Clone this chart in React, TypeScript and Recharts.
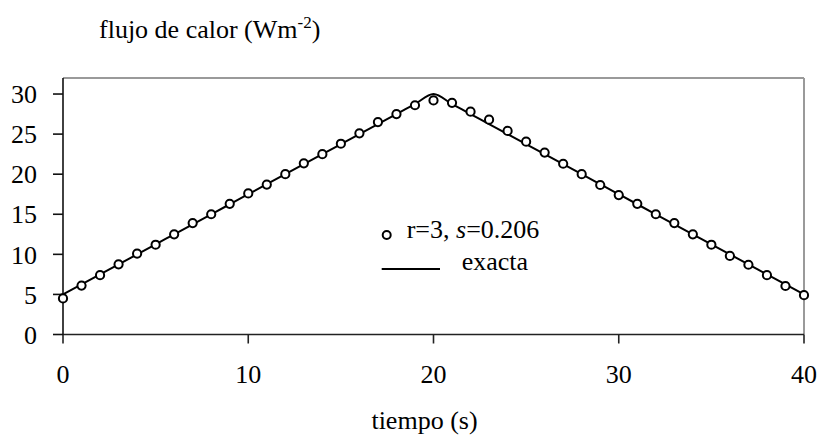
import {
  ComposedChart,
  Line,
  Scatter,
  XAxis,
  YAxis,
  ReferenceLine,
  Legend,
  Customized,
} from 'recharts'

// tiempo (s), one sample per second
const tiempo = [
  0, 1, 2, 3, 4, 5, 6, 7, 8, 9, 10, 11, 12, 13, 14, 15, 16, 17, 18, 19, 20,
  21, 22, 23, 24, 25, 26, 27, 28, 29, 30, 31, 32, 33, 34, 35, 36, 37, 38, 39, 40,
]

// solución exacta (línea)
const exacta = [
  5, 6.25, 7.5, 8.75, 10, 11.25, 12.5, 13.75, 15, 16.25, 17.5, 18.75, 20, 21.25,
  22.5, 23.75, 25, 26.25, 27.5, 28.75, 30, 28.75, 27.5, 26.25, 25, 23.75, 22.5,
  21.25, 20, 18.75, 17.5, 16.25, 15, 13.75, 12.5, 11.25, 10, 8.75, 7.5, 6.25, 5,
]

// r=3, s=0.206 (círculos)
const estimada = [
  4.5, 6.1, 7.4, 8.75, 10.1, 11.2, 12.5, 13.9, 15.0, 16.3, 17.6, 18.7, 20.0,
  21.35, 22.5, 23.8, 25.1, 26.5, 27.5, 28.6, 29.2, 28.9, 27.8, 26.8, 25.4, 24.05,
  22.7, 21.3, 20.0, 18.65, 17.4, 16.3, 15.0, 13.9, 12.5, 11.2, 9.8, 8.7, 7.4,
  6.05, 4.9,
]

const xTicks = [0, 10, 20, 30, 40]
const yTicks = [0, 5, 10, 15, 20, 25, 30]

const FONT = '"Liberation Serif", "Times New Roman", serif'

const data = tiempo.map((t, i) => ({ t, exacta: exacta[i], estimada: estimada[i] }))

const Marker = (props: any) => {
  const { cx, cy } = props
  if (cx == null || cy == null) return null
  return <circle cx={cx} cy={cy} r={4.1} fill="#fff" stroke="#000" strokeWidth={2} />
}

const LegendBox = () => (
  <svg width={200} height={70} style={{ fontFamily: FONT, overflow: 'visible' }}>
    <circle cx={16.7} cy={25} r={4} fill="#fff" stroke="#000" strokeWidth={2} />
    <text x={36.7} y={28} fontSize={26} fill="#000">
      r=3, <tspan fontStyle="italic">s</tspan>=0.206
    </text>
    <line x1={11.7} x2={70} y1={59} y2={59} stroke="#000" strokeWidth={1.8} />
    <text x={91.7} y={60} fontSize={26} fill="#000">
      exacta
    </text>
  </svg>
)

const Titles = () => (
  <g style={{ fontFamily: FONT }}>
    <text x={99} y={38} fontSize={26} fill="#000">
      flujo de calor (Wm
      <tspan fontSize={17} dy={-10}>-2</tspan>
      <tspan dy={10}>)</tspan>
    </text>
    <text x={424.5} y={429} fontSize={26} fill="#000" textAnchor="middle">
      tiempo (s)
    </text>
  </g>
)

export default function App() {
  return (
    <div style={{ position: 'absolute', left: 0, top: 0, width: 819, height: 436, background: '#fff' }}>
      <ComposedChart
        width={819}
        height={436}
        data={data}
        margin={{ top: 78, right: 15, left: 0, bottom: 61.5 }}
      >
        <ReferenceLine y={32} stroke="#9a9a9a" strokeWidth={2} ifOverflow="extendDomain" />
        <ReferenceLine x={40} stroke="#9a9a9a" strokeWidth={2} ifOverflow="extendDomain" />
        <XAxis
          dataKey="t"
          type="number"
          domain={[0, 40]}
          ticks={xTicks}
          height={40}
          stroke="#222"
          strokeWidth={1.6}
          tickSize={9}
          tickMargin={21}
          tick={{ fill: '#000', fontSize: 26, fontFamily: FONT }}
          interval={0}
        />
        <YAxis
          type="number"
          domain={[0, 32]}
          ticks={yTicks}
          width={63}
          stroke="#111"
          strokeWidth={1.6}
          tickSize={10}
          tickMargin={16}
          tick={{ fill: '#000', fontSize: 26, fontFamily: FONT }}
          interval={0}
        />
        <Line
          type="monotone"
          dataKey="exacta"
          stroke="#000"
          strokeWidth={2}
          dot={false}
          activeDot={false}
          isAnimationActive={false}
        />
        <Scatter dataKey="estimada" shape={<Marker />} isAnimationActive={false} />
        <Legend
          layout="horizontal"
          verticalAlign="middle"
          align="center"
          content={<LegendBox />}
          wrapperStyle={{ left: 370, top: 210, width: 200, height: 70 }}
        />
        <Customized component={<Titles />} />
      </ComposedChart>
    </div>
  )
}
